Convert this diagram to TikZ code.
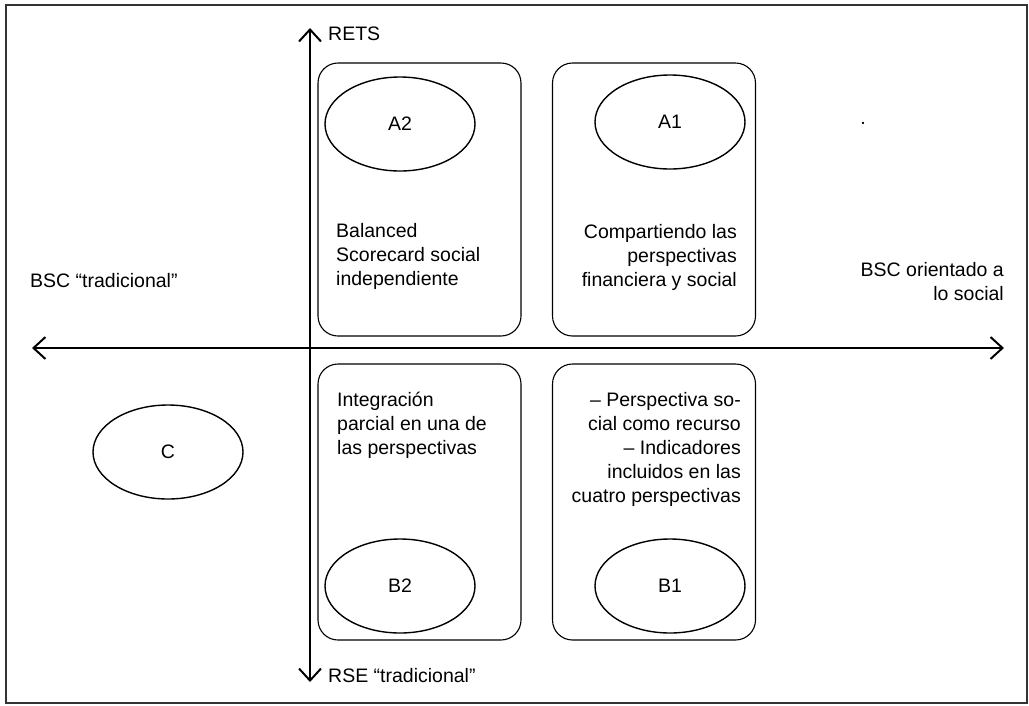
\documentclass[tikz,border=0pt]{standalone}
\usepackage{fontspec}
\setmainfont{Liberation Sans}
\usepackage{tkz-euclide}
\usetikzlibrary{arrows.meta,shapes.geometric}

\tikzset{
  quadbox/.style={draw, line width=1.1pt, rounded corners=20pt,
    minimum width=203pt, inner sep=0pt},
  oval/.style={draw, ellipse, line width=1.4pt, minimum width=150pt,
    minimum height=94pt, inner sep=0pt},
  axis/.style={line width=2pt, {Straight Barb[length=12pt,width=22pt]}-{Straight Barb[length=12pt,width=22pt]}},
  txt/.style={inner sep=0pt, font=\fontsize{19.5}{24}\selectfont}
}

\begin{document}
\begin{tikzpicture}[x=1pt,y=-1pt]
            \useasboundingbox (0,0) rectangle (1029,705);
            \draw[line width=1.8pt, black!80] (6,5) rectangle (1027,703);
            % axes
            \tkzDefPoint(32,348){W}
            \tkzDefPoint(1004,348){E}
            \tkzDefPoint(310,28){N}
            \tkzDefPoint(310,682){S}
            \tkzDrawSegment[axis](W,E)
            \tkzDrawSegment[axis](N,S)
            % quadrants
            \node[quadbox, minimum height=273pt] (qa2) at (419.5,199.5) {};
            \node[quadbox, minimum height=273pt] (qa1) at (654,199.5) {};
            \node[quadbox, minimum height=276pt] (qb2) at (419.5,502) {};
            \node[quadbox, minimum height=276pt] (qb1) at (654,502) {};
            % ovals
            \node[oval, txt] (a2) at (400,124) {A2};
            \node[oval, txt] (a1) at (670,122) {A1};
            \node[oval, txt] (b2) at (400,586) {B2};
            \node[oval, txt] (b1) at (670,586) {B1};
            \node[oval, txt] (c) at (168,452) {C};
            % texts
            \node[txt, anchor=north west, align=left] (ta2) at (336,223)
                {Balanced\\Scorecard social\\independiente};
            \node[txt, anchor=north east, align=right] (ta1) at (737,224)
                {Compartiendo las\\perspectivas\\financiera y social};
            \node[txt, anchor=north west, align=left] (tb2) at (337,392)
                {Integración\\parcial en una de\\las perspectivas};
            \node[txt, anchor=north east, align=right] (tb1) at (741,392)
                {– Perspectiva so-\\cial como recurso\\– Indicadores\\incluidos en las\\cuatro perspectivas};
            \node[txt, anchor=north west] (rets) at (328,27) {RETS};
            \node[txt, anchor=north west] (rse) at (328,668) {RSE “tradicional”};
            \node[txt, anchor=north west] (bsct) at (30,273) {BSC “tradicional”};
            \node[txt, anchor=north east, align=right] (bscs) at (1004,262)
                {BSC orientado a\\lo social};
            \node[txt, anchor=base] (dot) at (863,124) {.};
        \end{tikzpicture}
\end{document}
